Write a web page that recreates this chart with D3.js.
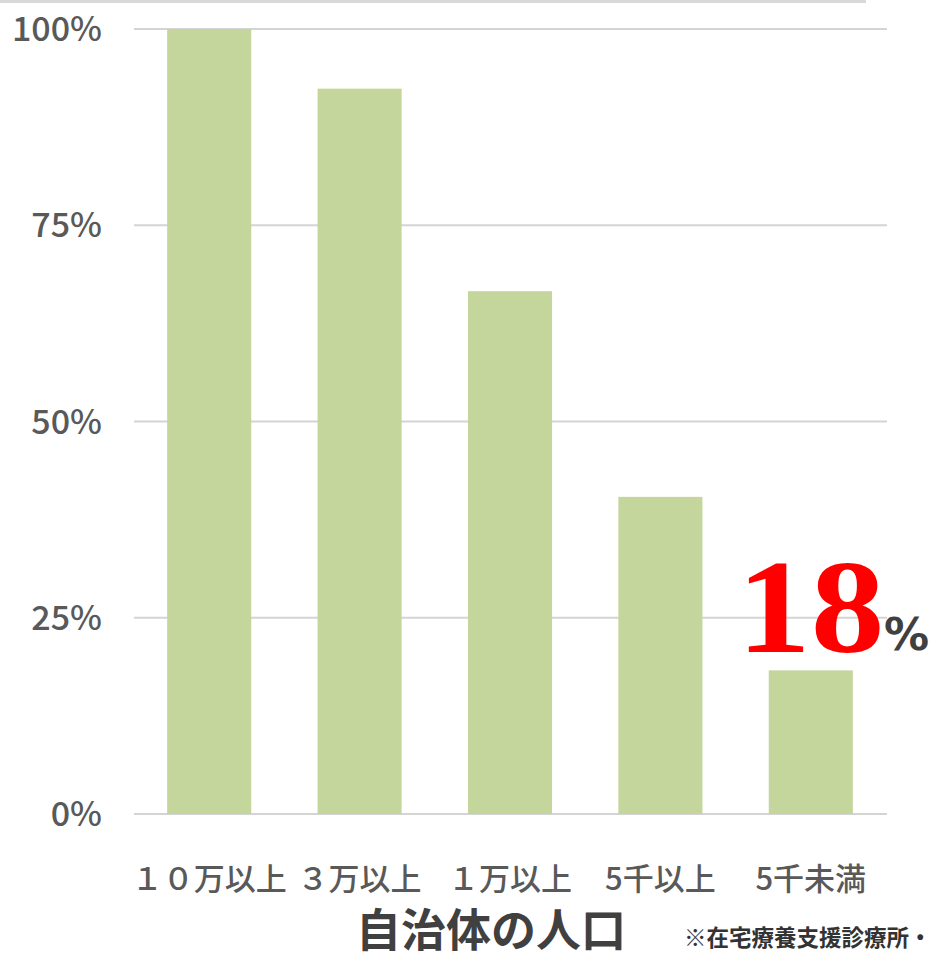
<!DOCTYPE html>
<html><head><meta charset="utf-8">
<script src="https://cdn.jsdelivr.net/npm/d3@7"></script>
<style>html,body{margin:0;padding:0;background:#fff;overflow:hidden}</style>
</head><body>
<svg id="c" width="932" height="954"></svg>
<script>
const categories = ["１０万以上", "３万以上", "１万以上", "5千以上", "5千未満"];
const values = [100, 92.4, 66.6, 40.4, 18.3];
const yTicks = [0, 25, 50, 75, 100];
const highlightLabel = "18";
const xTitle = "自治体の人口";
const note = "※在宅療養支援診療所・";

const svg = d3.select("#c");
const jp = "'Noto Sans CJK JP','Noto Sans',sans-serif";

// top band
svg.append("rect").attr("x",0).attr("y",0).attr("width",866).attr("height",3).attr("fill","#d9d9d9");

const x = d3.scaleBand().domain(categories).range([134, 886]).paddingInner(0.441).paddingOuter(0.2205);
const y = d3.scaleLinear().domain([0, 100]).range([814, 29]);

// gridlines
svg.append("g").selectAll("line").data(yTicks).join("line")
  .attr("x1",134).attr("x2",887)
  .attr("y1",d=>y(d)).attr("y2",d=>y(d))
  .attr("stroke","#d4d4d4").attr("stroke-width",2);

// y labels
svg.append("g").selectAll("text").data(yTicks).join("text")
  .attr("x",102).attr("y",d=>y(d)).attr("dy","0.36em")
  .attr("text-anchor","end")
  .attr("font-family",jp).attr("font-size",34).attr("font-weight",500)
  .attr("fill","#595959")
  .text(d=>d+"%");

// bars
svg.append("g").selectAll("rect").data(values).join("rect")
  .attr("x",(d,i)=>x(categories[i]))
  .attr("width",x.bandwidth())
  .attr("y",d=>y(d))
  .attr("height",d=>y(0)-y(d))
  .attr("fill","#c4d69c");

// x labels
svg.append("g").selectAll("text").data(categories).join("text")
  .attr("x",d=>x(d)+x.bandwidth()/2).attr("y",890)
  .attr("text-anchor","middle")
  .attr("font-family",jp).attr("font-size",31).attr("font-weight",500)
  .attr("fill","#595959")
  .text(d=>d);

// axis title
svg.append("text").attr("x",491).attr("y",947).attr("text-anchor","middle")
  .attr("font-family",jp).attr("font-size",45).attr("font-weight",700)
  .attr("fill","#404040").text(xTitle);

// note
svg.append("text").attr("x",684).attr("y",946)
  .attr("font-family",jp).attr("font-size",22.5).attr("font-weight",700)
  .attr("fill","#333").text(note);

// highlight
svg.append("text").attr("transform","translate(737,652) scale(1.1,1)")
  .attr("font-family","'Liberation Serif',serif").attr("font-weight",700)
  .attr("font-size",134).attr("fill","#ff0000").text(highlightLabel);
svg.append("text").attr("x",884).attr("y",650)
  .attr("font-family","'DejaVu Sans',sans-serif").attr("font-weight",700)
  .attr("font-size",45).attr("fill","#404040").text("%");
</script>
</body></html>
